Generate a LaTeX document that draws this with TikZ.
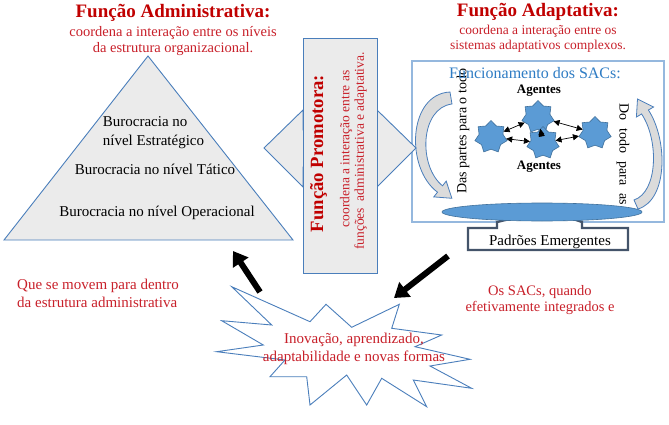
\documentclass[tikz,border=0pt]{standalone}
\usepackage{fontspec}
\setmainfont{Liberation Serif}
\usetikzlibrary{shapes.geometric,arrows.meta}
\definecolor{dred}{HTML}{C00000}
\definecolor{tred}{HTML}{C8202A}
\definecolor{bord}{HTML}{4A7EBB}
\definecolor{lgray}{HTML}{EBEBEB}
\definecolor{sacb}{HTML}{95B8DE}
\definecolor{sact}{HTML}{2E7CC4}
\definecolor{starf}{HTML}{5B9BD5}
\definecolor{stard}{HTML}{41719C}
\definecolor{slate}{HTML}{44546A}
\newcommand\fsz[2]{\fontsize{#1}{#2}\selectfont}
\begin{document}
\begin{tikzpicture}[x=1pt,y=-1pt,
  ttl/.style={font=\fsz{19}{21}\bfseries, text=dred, inner sep=0pt},
  sub/.style={text=tred, align=center, inner sep=0pt},
  blk/.style={font=\fsz{15}{19}, text=black, inner sep=0pt},
  shapeline/.style={draw=bord, line width=0.9pt},
  agent/.style={star, star points=7, star point ratio=1.35, minimum size=33pt,
    fill=starf, draw=stard, line width=0.6pt, inner sep=0pt},
  link/.style={{Triangle[length=6pt,width=6pt]}-{Triangle[length=6pt,width=6pt]}, line width=0.7pt},
  bigarrow/.style={line width=6pt, -{Triangle[length=14pt,width=18pt]}},
  curvearrow/.style={draw=bord, line width=0.8pt, fill=black!14}
]
\useasboundingbox (0,0) rectangle (669,425);

% ---------- Titles ----------
\node[ttl] (tadm) at (173,13) {Função Administrativa:};
\node[sub, font=\fsz{14.5}{16}] (sadm) at (173,41) {coordena a interação entre os níveis\\da estrutura organizacional.};
\node[ttl] (tada) at (538,12) {Função Adaptativa:};
\node[sub, font=\fsz{13.5}{14.5}] (sada) at (538,39) {coordena a interação entre os\\sistemas adaptativos complexos.};

% ---------- Pyramid ----------
\draw[shapeline, fill=lgray] (148,56) -- (293,240) -- (4,240) -- cycle;
\node[blk, align=left] (estr) at (153.5,132.5) {Burocracia no\\nível Estratégico};
\node[blk] (tat) at (155,169) {Burocracia no nível Tático};
\node[blk] (oper) at (157,213) {Burocracia no nível Operacional};

% ---------- SAC box ----------
\draw[sacb, line width=1.2pt, fill=white] (412,61) rectangle (664,222);
\node[font=\fsz{14}{16}, rotate=90, anchor=west, inner sep=0pt] (dpt) at (463,194) {Das partes para o todo};
\node[font=\fsz{14}{16}, rotate=-90, anchor=west, inner sep=0pt] (dtp) at (623,103) {Do\hspace{8pt}todo\hspace{8pt}para\hspace{8pt}as};
\node[font=\fsz{16}{18}, text=sact, inner sep=0pt] (func) at (535,73) {Funcionamento dos SACs:};
\node[font=\fsz{13}{15}\bfseries, inner sep=0pt] (ag1) at (539,91) {Agentes};
\node[font=\fsz{13}{15}\bfseries, inner sep=0pt] (ag2) at (539,167) {Agentes};

% curved arrows
\draw[curvearrow] (450,92) .. controls (408,94) and (405,168) .. (437.5,192.2)
  -- (433.8,196.9) -- (451.9,198.3) -- (446.2,181.1) -- (442.5,185.8)
  .. controls (418,166) and (420,108) .. (452,104) -- cycle;
\draw[curvearrow] (638,209) .. controls (668,200) and (668,140) .. (648.4,110)
  -- (653.6,107) -- (637.5,99) -- (636.4,117) -- (641.6,114)
  .. controls (659,140) and (658,192) .. (634,200) -- cycle;

% Padrões Emergentes callout
\draw[draw=slate, line width=2.4pt, fill=white] (468,250) -- (468,228) -- (497,228) -- (497,222)
  -- (547,210) -- (582,222) -- (582,228) -- (628,228) -- (628,250) -- cycle;
\node[font=\fsz{15}{17}, inner sep=0pt] (pad) at (550,242) {Padrões Emergentes};

% ellipse
\node[ellipse, fill=starf, draw=stard, line width=0.6pt, minimum width=200pt, minimum height=18pt, inner sep=0pt] (ell) at (542,212) {};

% agents
\node[agent] (s1) at (491,137) {};
\node[agent] (s2) at (538,117) {};
\node[agent] (s3) at (543,143) {};
\node[agent] (s4) at (595,133) {};
\draw[link] (s1) -- (s2);
\draw[link] (s1) -- (s3);
\draw[link] (s2) -- (s3);
\draw[link] (s2) -- (s4);
\draw[link] (s3) -- (s4);

% ---------- Promoting function ----------
\draw[shapeline, fill=lgray] (264,148) -- (303,110) -- (303,130) -- (377,130) -- (377,110)
  -- (416,148) -- (377,187) -- (377,167) -- (303,167) -- (303,187) -- cycle;
\draw[shapeline, fill=lgray] (303,38) rectangle (377,273);
\node[font=\fsz{18.7}{20}\bfseries, text=dred, rotate=90, inner sep=0pt] (tpro) at (318.5,153.5) {Função Promotora:};
\node[font=\fsz{13.5}{15}, text=tred, rotate=90, inner sep=0pt] (spro1) at (346,149) {coordena a interação entre as};
\node[font=\fsz{13.5}{15}, text=tred, rotate=90, inner sep=0pt] (spro2) at (360.5,151) {funções\ \ administrativa e adaptativa.};

% ---------- Starburst ----------
\draw[shapeline, fill=white] (231.7,286.7) -- (310,321.7) -- (326,304.3) -- (351.7,327.3)
  -- (399.3,304.3) -- (391.7,328.3) -- (441.7,335) -- (415,346.7) -- (470,359.3)
  -- (430,366) -- (471.7,388.3) -- (413.3,380) -- (426.7,406.7) -- (381.7,378.3)
  -- (366.7,405) -- (346.7,375) -- (310,405) -- (306.7,376.7) -- (270,376.7)
  -- (285,360) -- (216.7,351.7) -- (263.3,345) -- (221.7,320.7) -- (271.7,325) -- cycle;
\node[font=\fsz{15}{18}, text=tred, align=center, inner sep=0pt] (inov) at (354,349) {Inovação, aprendizado,\\adaptabilidade e novas formas};

% ---------- Side texts ----------
\node[font=\fsz{15}{18}, text=tred, align=left, anchor=west, inner sep=0pt] (mov) at (17,293) {Que se movem para dentro\\da estrutura administrativa};
\node[font=\fsz{14.5}{16.5}, text=tred, align=center, inner sep=0pt] (sacq) at (540,300) {Os SACs, quando\\efetivamente integrados e};

% ---------- Black arrows ----------
\coordinate (a1s) at (260,292);
\coordinate (a1e) at (233,251);
\coordinate (a2s) at (448,256);
\coordinate (a2e) at (394,298);
\draw[bigarrow] (a1s) -- (a1e);
\draw[bigarrow] (a2s) -- (a2e);
\end{tikzpicture}
\end{document}
